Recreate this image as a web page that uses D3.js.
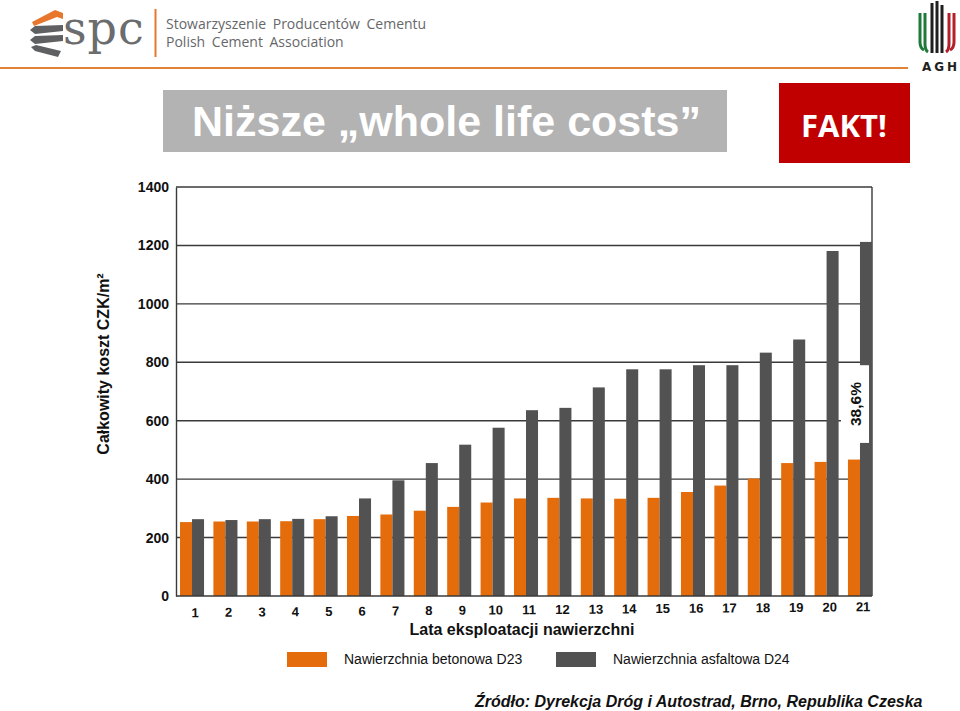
<!DOCTYPE html>
<html>
<head>
<meta charset="utf-8">
<script src="https://cdn.jsdelivr.net/npm/d3@7"></script>
<style>
  body { margin: 0; background: #fff; }
  svg { display: block; font-family: "Liberation Sans", Arial, sans-serif; }
</style>
</head>
<body>
<svg id="chart" width="960" height="711"></svg>
<script>
`use strict`;

// lata eksploatacji
const years = [1, 2, 3, 4, 5, 6, 7, 8, 9, 10, 11, 12, 13, 14, 15, 16, 17, 18, 19, 20, 21];

// CZK/m2
const concrete = [253, 255, 255, 256, 263, 274, 279, 292, 305, 320, 334, 336, 334, 333, 336, 356, 378, 402, 455, 459, 467];
const asphalt = [263, 260, 263, 264, 273, 334, 396, 455, 518, 576, 636, 644, 714, 776, 776, 790, 790, 833, 878, 1181, 1212];

const yTicks = [0, 200, 400, 600, 800, 1000, 1200, 1400];

const seriesNames = [`Nawierzchnia betonowa D23`, `Nawierzchnia asfaltowa D24`];
const seriesColors = [`#e46c0a`, `#525252`];

const savingLabel = `38,6%`;

(function () {

  const svg = d3.select(`#chart`);

  // ---- naglowek ----
  let head = svg.append(`g`);

  head.append(`line`)
    .attr(`x1`, 0).attr(`x2`, 908)
    .attr(`y1`, 68).attr(`y2`, 68)
    .attr(`stroke`, `#e08238`)
    .attr(`stroke-width`, 2);

  let chevrons = [
    {fill: `#e8772e`, pts: [[32, 22], [55, 10], [63, 13], [63, 19], [57, 17], [34, 26]]},
    {fill: `#5f6062`, pts: [[30, 30], [35, 26], [63, 25], [63, 31], [35, 34]]},
    {fill: `#5f6062`, pts: [[30, 40], [35, 36], [63, 35], [63, 41], [35, 44]]},
    {fill: `#5f6062`, pts: [[31, 47], [36, 45], [61, 51], [58, 57], [35, 51]]}
  ];

  head.selectAll(`polygon.chev`).data(chevrons)
    .enter()
    .append(`polygon`)
    .attr(`class`, `chev`)
    .attr(`points`, d => d.pts.map(p => p.join(`,`)).join(` `))
    .attr(`fill`, d => d.fill);

  head.append(`text`)
    .attr(`x`, 63).attr(`y`, 44)
    .style(`font-family`, `"DejaVu Serif", serif`)
    .style(`font-size`, `46px`)
    .style(`letter-spacing`, `1px`)
    .style(`fill`, `#6b6c6e`)
    .text(`spc`);

  head.append(`line`)
    .attr(`x1`, 155.5).attr(`x2`, 155.5)
    .attr(`y1`, 9).attr(`y2`, 57)
    .attr(`stroke`, `#e8772e`)
    .attr(`stroke-width`, 2);

  [[`Stowarzyszenie Producentów Cementu`, 29], [`Polish Cement Association`, 47]].forEach(t => {
    head.append(`text`)
      .attr(`x`, 166).attr(`y`, t[1])
      .style(`font-family`, `"Open Sans", sans-serif`)
      .style(`font-size`, `14px`)
      .style(`word-spacing`, `3px`)
      .style(`fill`, `#66676a`)
      .text(t[0]);
  });

  // logo AGH
  let stripes = [
    {x: 920, top: 13, bot: 48, c: `#1f7a3a`, bend: 4},
    {x: 925, top: 13, bot: 50, c: `#1f7a3a`, bend: 3},
    {x: 932, top: 3, bot: 51, c: `#1e1e1e`, bend: 0},
    {x: 937, top: 1, bot: 51, c: `#1e1e1e`, bend: 0},
    {x: 942, top: 5, bot: 51, c: `#1e1e1e`, bend: 0},
    {x: 949, top: 13, bot: 50, c: `#b3202a`, bend: -3},
    {x: 954, top: 13, bot: 48, c: `#b3202a`, bend: -4}
  ];

  head.selectAll(`path.agh`).data(stripes)
    .enter()
    .append(`path`)
    .attr(`class`, `agh`)
    .attr(`d`, d => `M${d.x},${d.top} V${d.bot - 6} Q${d.x},${d.bot} ${d.x + d.bend},${d.bot + 2}`)
    .attr(`fill`, `none`)
    .attr(`stroke`, d => d.c)
    .attr(`stroke-width`, 3);

  head.append(`text`)
    .attr(`x`, 941).attr(`y`, 71)
    .attr(`text-anchor`, `middle`)
    .style(`font-family`, `"DejaVu Sans", sans-serif`)
    .style(`font-weight`, `bold`)
    .style(`font-size`, `12px`)
    .style(`letter-spacing`, `3px`)
    .style(`fill`, `#231f20`)
    .text(`AGH`);

  // tytul
  svg.append(`rect`)
    .attr(`x`, 163).attr(`y`, 90)
    .attr(`width`, 564).attr(`height`, 62)
    .attr(`fill`, `#b3b3b3`);

  svg.append(`text`)
    .attr(`x`, 192).attr(`y`, 136)
    .style(`font-weight`, `bold`)
    .style(`font-size`, `43px`)
    .style(`fill`, `#fff`)
    .text(`Niższe „whole life costs”`);

  svg.append(`rect`)
    .attr(`x`, 779).attr(`y`, 83)
    .attr(`width`, 131).attr(`height`, 80)
    .attr(`fill`, `#c00000`);

  svg.append(`text`)
    .attr(`x`, 844).attr(`y`, 137)
    .attr(`text-anchor`, `middle`)
    .style(`font-family`, `"Open Sans", sans-serif`)
    .style(`font-weight`, `bold`)
    .style(`font-size`, `31px`)
    .style(`fill`, `#fff`)
    .text(`FAKT!`);

  // ---- wykres ----
  const left = 176, right = 872;

  let x = d3.scaleBand()
    .domain(years)
    .range([180, right])
    .paddingInner(0.28)
    .paddingOuter(0);

  let sub = d3.scaleBand()
    .domain([0, 1])
    .range([0, x.bandwidth()]);

  let y = d3.scaleLinear()
    .domain([0, 1400])
    .range([596, 187]);

  let plot = svg.append(`g`);

  plot.selectAll(`line.grid`).data(yTicks.filter(v => v > 0))
    .enter()
    .append(`line`)
    .attr(`class`, `grid`)
    .attr(`x1`, left).attr(`x2`, right)
    .attr(`y1`, d => y(d)).attr(`y2`, d => y(d))
    .attr(`stroke`, `#3a3a3a`)
    .attr(`stroke-width`, 1.4);

  plot.append(`line`)
    .attr(`x1`, right).attr(`x2`, right)
    .attr(`y1`, y(1400)).attr(`y2`, y(0))
    .attr(`stroke`, `#3a3a3a`)
    .attr(`stroke-width`, 1.4);

  let rows = years.map((yr, i) => ({yr: yr, vals: [concrete[i], asphalt[i]]}));

  let groups = plot.selectAll(`g.yr`).data(rows)
    .enter()
    .append(`g`)
    .attr(`class`, `yr`)
    .attr(`transform`, d => `translate(${x(d.yr)},0)`);

  groups.selectAll(`rect`).data(d => d.vals)
    .enter()
    .append(`rect`)
    .attr(`x`, (d, i) => sub(i))
    .attr(`y`, d => y(d))
    .attr(`width`, sub.bandwidth())
    .attr(`height`, d => y(0) - y(d))
    .attr(`fill`, (d, i) => seriesColors[i]);

  // osie
  let yAxis = plot.append(`g`)
    .attr(`transform`, `translate(${left},0)`)
    .call(d3.axisLeft(y).tickValues(yTicks).tickFormat(d3.format(`d`)).tickSize(0).tickSizeOuter(0).tickPadding(7));

  yAxis.select(`.domain`)
    .attr(`stroke`, `#3a3a3a`)
    .attr(`stroke-width`, 1.4);

  yAxis.selectAll(`text`)
    .style(`font-family`, `"Liberation Sans", Arial, sans-serif`)
    .style(`font-size`, `14px`)
    .style(`font-weight`, `bold`)
    .style(`fill`, `#111`);

  plot.append(`line`)
    .attr(`x1`, left).attr(`x2`, right)
    .attr(`y1`, y(0)).attr(`y2`, y(0))
    .attr(`stroke`, `#3a3a3a`)
    .attr(`stroke-width`, 1.4);

  let xAxis = plot.append(`g`)
    .attr(`transform`, `translate(3,${y(0)}) rotate(-0.5, 526, 0)`)
    .call(d3.axisBottom(x).tickSize(0).tickPadding(9));

  xAxis.select(`.domain`).remove();

  xAxis.selectAll(`text`)
    .style(`font-family`, `"Liberation Sans", Arial, sans-serif`)
    .style(`font-size`, `13px`)
    .style(`font-weight`, `bold`)
    .style(`fill`, `#111`);

  svg.append(`text`)
    .attr(`x`, 522).attr(`y`, 635)
    .attr(`text-anchor`, `middle`)
    .style(`font-size`, `16px`)
    .style(`font-weight`, `bold`)
    .style(`fill`, `#111`)
    .text(`Lata eksploatacji nawierzchni`);

  svg.append(`text`)
    .attr(`transform`, `translate(109,364) rotate(-90)`)
    .attr(`text-anchor`, `middle`)
    .style(`font-size`, `16px`)
    .style(`font-weight`, `bold`)
    .style(`fill`, `#111`)
    .text(`Całkowity koszt CZK/m²`);

  // etykieta oszczednosci przy ostatnim roku
  let lastYr = years[years.length - 1];
  let bx0 = x(lastYr) - 7, bx1 = x(lastYr) + x.bandwidth() - 3;

  plot.append(`rect`)
    .attr(`x`, bx0).attr(`y`, y(790))
    .attr(`width`, bx1 - bx0).attr(`height`, y(524) - y(790))
    .attr(`fill`, `#fff`);

  plot.append(`line`)
    .attr(`x1`, bx1 + 0.5).attr(`x2`, bx1 + 0.5)
    .attr(`y1`, y(790)).attr(`y2`, y(524))
    .attr(`stroke`, `#555`)
    .attr(`stroke-width`, 1);

  plot.append(`text`)
    .attr(`transform`, `translate(${(bx0 + bx1) / 2 + 6},${(y(790) + y(524)) / 2}) rotate(-90)`)
    .attr(`text-anchor`, `middle`)
    .style(`font-size`, `15.5px`)
    .style(`font-weight`, `bold`)
    .style(`fill`, `#111`)
    .text(savingLabel);

  // legenda
  let legend = svg.append(`g`).selectAll(`g`).data(seriesNames)
    .enter()
    .append(`g`)
    .attr(`transform`, (d, i) => `translate(${[287, 556][i]},652)`);

  legend.append(`rect`)
    .attr(`width`, 40).attr(`height`, 15)
    .attr(`fill`, (d, i) => seriesColors[i]);

  legend.append(`text`)
    .attr(`x`, 57).attr(`y`, 12)
    .style(`font-size`, `14px`)
    .style(`fill`, `#111`)
    .text(d => d);

  // zrodlo
  svg.append(`text`)
    .attr(`x`, 475).attr(`y`, 707)
    .style(`font-size`, `16px`)
    .style(`font-weight`, `bold`)
    .style(`font-style`, `italic`)
    .style(`fill`, `#111`)
    .text(`Źródło: Dyrekcja Dróg i Autostrad, Brno, Republika Czeska`);
})();
</script>
</body>
</html>
